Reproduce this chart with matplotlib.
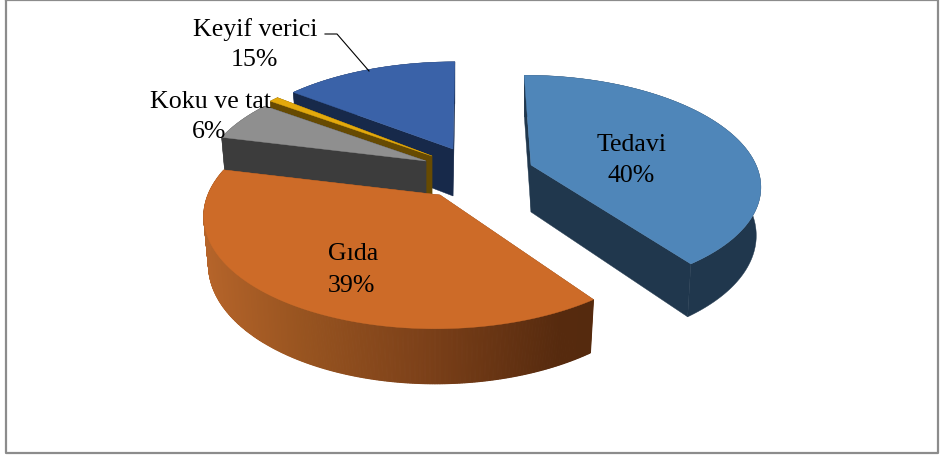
import numpy as np
from matplotlib import pyplot as plt
from matplotlib.colors import to_rgb

# Slices in the clockwise order of the pie, starting at 12 o'clock
labels = ['Tedavi', 'Gıda', 'Koku ve tat', '', 'Keyif verici']
values = [40.4, 39, 6, 0.8, 14.6]
percent_labels = ['40%', '39%', '6%', '', '15%']

top_colors = ['#4f86b9', '#cd6b28', '#8f8f8f', '#e3a90c', '#3a62a8']
wall_colors = ['#20374d', '#8a4a1c', '#3c3c3c', '#664a02', '#17294a']

# Where each slice's tip ended up after the explosion, and its radii
apex_x = [531, 440, 426, 432, 453]
apex_y = [166, 196, 162, 157, 150]
radius_x = [225, 232, 220, 220, 225]
radius_y = [105, 111, 105, 105, 102]

PERSPECTIVE = 0.17
VANISH_X = 470
DEPTH = 47

# Draw order, back to front
draw_order = [4, 3, 2, 0, 1]


def rim_point(theta, cx, cy, a, b):
    # theta is clockwise from the top, nearer points come out bigger
    u = np.sin(theta)
    v = -np.cos(theta)
    w = 1 - PERSPECTIVE * v
    shear = 0.13 * (cx - VANISH_X)
    return cx + (a * u + shear * v) / w, cy + b * v / w


def lower(x, y, cx, cy):
    return cx + (x - cx) * 0.98, y + DEPTH + 0.06 * (y - cy)


def gida_wall_color(x):
    stops_x = [205, 300, 420, 560, 595]
    stops = np.array([to_rgb('#b5642a'), to_rgb('#985420'), to_rgb('#7d4119'),
                      to_rgb('#562a0e'), to_rgb('#552a0e')])
    return [np.interp(x, stops_x, stops[:, i]) for i in range(3)]


fig = plt.figure(figsize=(9.41, 4.56), dpi=100)
ax = fig.add_axes([0, 0, 1, 1])
ax.set_xlim(0, 941)
ax.set_ylim(456, 0)
ax.axis('off')

# Chart frame
ax.plot([6.5, 938, 938, 6.5, 6.5], [1, 1, 454, 454, 1], color='#8c8c8c', lw=1.6, zorder=1)

edges = np.radians(np.concatenate([[0], np.cumsum(values)]) / np.sum(values) * 360)

for z, i in enumerate(draw_order):
    cx, cy, a, b = apex_x[i], apex_y[i], radius_x[i], radius_y[i]
    zorder = 2 + z
    thetas = np.linspace(edges[i], edges[i + 1], 400)
    x, y = rim_point(thetas, cx, cy, a, b)
    xb, yb = lower(x, y, cx, cy)
    axb, ayb = lower(cx, cy, cx, cy)

    # cut faces
    ax.fill([cx, x[0], xb[0], axb], [cy, y[0], yb[0], ayb], color=wall_colors[i], lw=0.3, zorder=zorder)
    ax.fill([cx, x[-1], xb[-1], axb], [cy, y[-1], yb[-1], ayb], color=wall_colors[i], lw=0.3, zorder=zorder)

    # outer wall, the Gıda one has a gradient so it goes in strips
    if labels[i] == 'Gıda':
        for k in range(len(x) - 1):
            c = gida_wall_color((x[k] + x[k + 1]) / 2)
            ax.fill([x[k], x[k + 1], xb[k + 1], xb[k]], [y[k], y[k + 1], yb[k + 1], yb[k]],
                    color=c, lw=0.8, zorder=zorder)
    else:
        ax.fill(np.r_[x, xb[::-1]], np.r_[y, yb[::-1]], color=wall_colors[i], lw=0.3, zorder=zorder)

    # top surface
    ax.fill(np.r_[cx, x], np.r_[cy, y], color=top_colors[i], lw=0.3, zorder=zorder + 0.5)

# Data labels
font = dict(family='Liberation Serif', fontsize=18.6, color='black', ha='center', va='center', zorder=20)
label_x = [632, 353, 211, 0, 255]
label_y = [145, 254, 102, 0, 30]
percent_x = [631, 351, 209, 0, 254]
percent_y = [176, 286, 132, 0, 60]
for i in range(len(labels)):
    if labels[i]:
        ax.text(label_x[i], label_y[i], labels[i], **font)
        ax.text(percent_x[i], percent_y[i], percent_labels[i], **font)

# Leader line of Keyif verici
ax.plot([325, 337, 369], [35, 35, 72], color='black', lw=0.8, zorder=20)

fig.savefig('out.png', dpi=100)
